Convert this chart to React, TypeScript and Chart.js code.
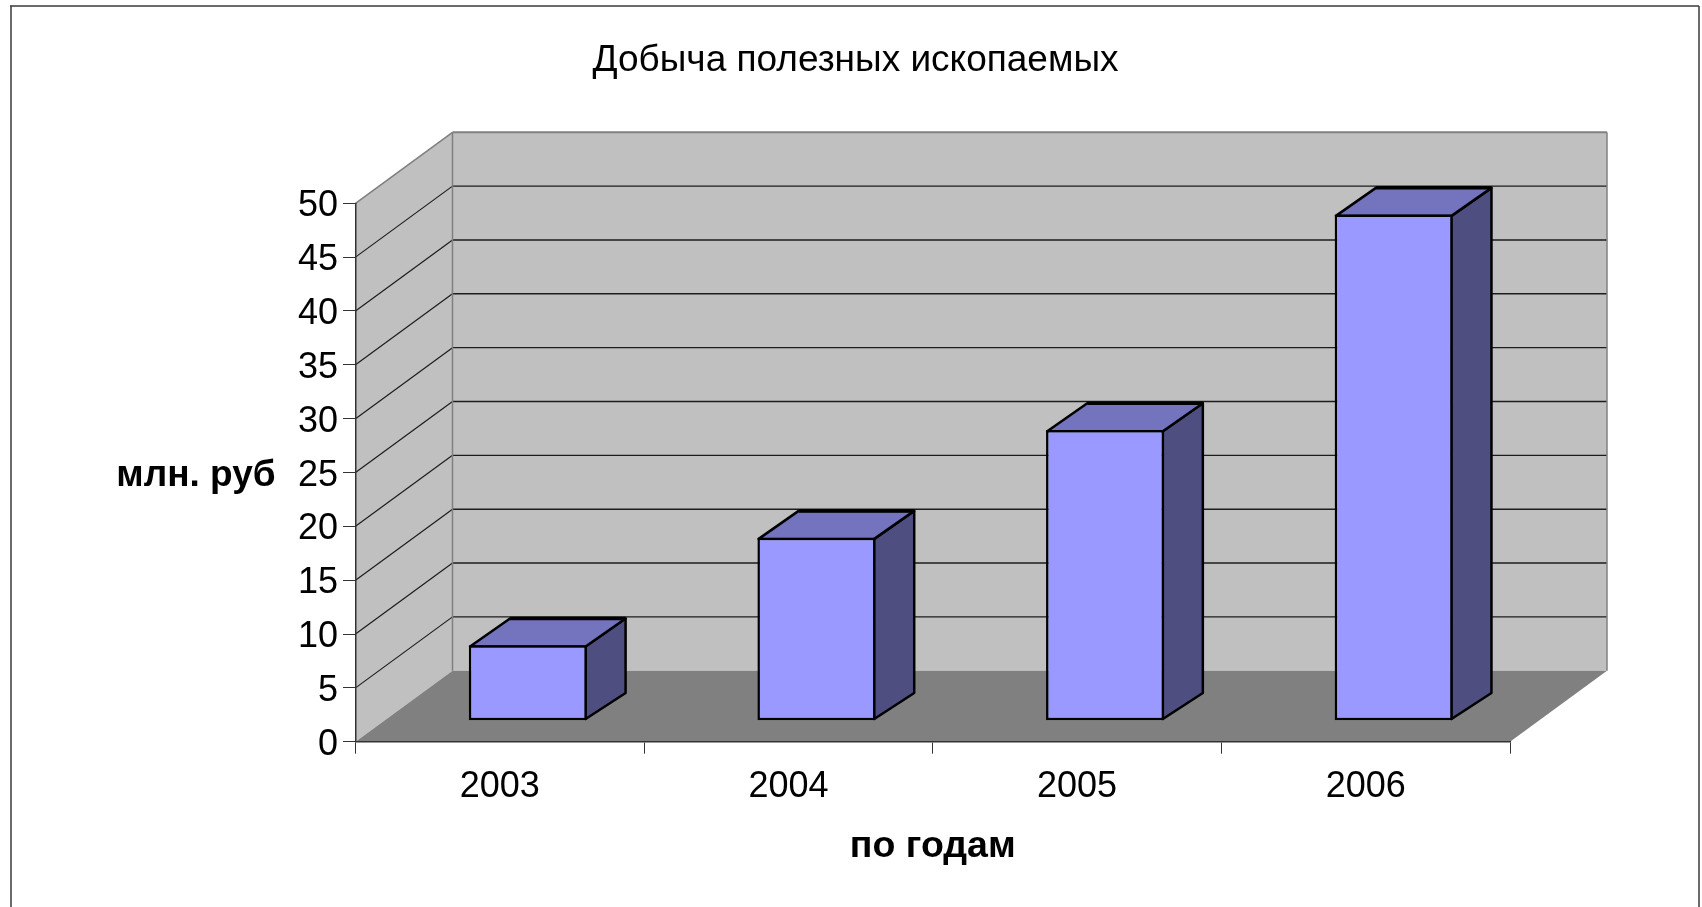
import React, { useEffect, useRef } from "react";
import { Chart, registerables } from "chart.js";

Chart.register(...registerables);

const titleText = "Добыча полезных ископаемых";
const xTitle = "по годам";
const yTitle = "млн. руб";
const categories = ["2003", "2004", "2005", "2006"];
const miningValues = [7, 17, 27, 47];
const axisMin = 0;
const axisMax = 50;
const axisStep = 5;

const FONT = '"Liberation Sans", Arial, sans-serif';
const DEPTH = { x: 97, y: -71 };
const BAR_DEPTH = { x: 40, top: -28, bottom: -26 };
const BAR_SHIFT = { x: 28, y: -21 };
const BAR_LINE = 2.5;
const COLORS = {
  wall: "#C0C0C0",
  floor: "#808080",
  edge: "#808080",
  grid: "#1c1c1c",
  front: "#9999FF",
  top: "#7474BE",
  side: "#4E4E80",
  frame: "#3a3a3a",
};

function poly(ctx: CanvasRenderingContext2D, pts: number[][], fill?: string, stroke?: string, lw = 1) {
  ctx.beginPath();
  pts.forEach((p, i) => (i ? ctx.lineTo(p[0], p[1]) : ctx.moveTo(p[0], p[1])));
  ctx.closePath();
  if (fill) {
    ctx.fillStyle = fill;
    ctx.fill();
  }
  if (stroke) {
    ctx.strokeStyle = stroke;
    ctx.lineWidth = lw;
    ctx.lineJoin = "round";
    ctx.stroke();
  }
}

function line(ctx: CanvasRenderingContext2D, a: number[], b: number[], color: string, lw: number) {
  ctx.beginPath();
  ctx.moveTo(a[0], a[1]);
  ctx.lineTo(b[0], b[1]);
  ctx.strokeStyle = color;
  ctx.lineWidth = lw;
  ctx.stroke();
}

const room3d = {
  id: "room3d",
  afterLayout(chart: any) {
    // the title is centred on the whole figure, not on the plot
    chart.titleBlock.left = 9;
    chart.titleBlock.right = 1702;
  },
  beforeDraw(chart: any) {
    const { ctx, width, height, scales } = chart;
    const x0 = scales.x.left;
    const x1 = scales.x.right;
    const yb = scales.y.getPixelForValue(axisMin);
    const yt = scales.y.getPixelForValue(axisMax);
    const d = DEPTH;
    ctx.save();
    ctx.fillStyle = "#ffffff";
    ctx.fillRect(0, 0, width, height);
    line(ctx, [11, 6], [11, height], COLORS.frame, 1.5);
    line(ctx, [10, 6], [1699, 6], COLORS.frame, 1.5);
    line(ctx, [1699, 6], [1699, height], COLORS.frame, 1.5);

    poly(ctx, [[x0 + d.x, yt + d.y], [x1 + d.x, yt + d.y], [x1 + d.x, yb + d.y], [x0 + d.x, yb + d.y]], COLORS.wall);
    poly(ctx, [[x0, yt], [x0 + d.x, yt + d.y], [x0 + d.x, yb + d.y], [x0, yb]], COLORS.wall);
    poly(ctx, [[x0, yb], [x0 + d.x, yb + d.y], [x1 + d.x, yb + d.y], [x1, yb]], COLORS.floor);

    for (let v = axisMin + axisStep; v < axisMax; v += axisStep) {
      const y = scales.y.getPixelForValue(v);
      line(ctx, [x0, y], [x0 + d.x, y + d.y], COLORS.grid, 1.2);
      line(ctx, [x0 + d.x, y + d.y], [x1 + d.x, y + d.y], COLORS.grid, 1.4);
    }
    line(ctx, [x0, yt], [x0 + d.x, yt + d.y], COLORS.edge, 1.6);
    line(ctx, [x0 + d.x, yt + d.y], [x1 + d.x, yt + d.y], COLORS.edge, 2);
    line(ctx, [x1 + d.x, yt + d.y], [x1 + d.x, yb + d.y], COLORS.edge, 1.5);
    line(ctx, [x0 + d.x, yt + d.y], [x0 + d.x, yb + d.y], COLORS.edge, 1.5);

    ctx.fillStyle = "#000";
    ctx.font = `bold 37px ${FONT}`;
    ctx.textAlign = "center";
    ctx.textBaseline = "alphabetic";
    ctx.fillText(yTitle, 196, 486);

    // value labels, sitting a little lower on their ticks than the built-in ones
    ctx.font = `36px ${FONT}`;
    ctx.textAlign = "right";
    scales.y.ticks.forEach((t: any) => {
      ctx.fillText(String(t.value), 338, scales.y.getPixelForValue(t.value) + 13);
    });
    ctx.restore();
  },
  beforeDatasetDraw(chart: any, args: any) {
    const { ctx } = chart;
    const meta = chart.getDatasetMeta(args.index);
    const inset = BAR_LINE / 2;
    ctx.save();
    meta.data.forEach((bar: any) => {
      const l = bar.x - bar.width / 2 + BAR_SHIFT.x + inset;
      const r = bar.x + bar.width / 2 + BAR_SHIFT.x - inset;
      const t = bar.y + BAR_SHIFT.y + inset;
      const b = bar.base + BAR_SHIFT.y - inset;
      const dx = BAR_DEPTH.x;
      poly(ctx, [[r, t], [r + dx, t + BAR_DEPTH.top], [r + dx, b + BAR_DEPTH.bottom], [r, b]], COLORS.side, "#000", BAR_LINE);
      poly(ctx, [[l, t], [l + dx, t + BAR_DEPTH.top], [r + dx, t + BAR_DEPTH.top], [r, t]], COLORS.top, "#000", BAR_LINE);
      line(ctx, [l + dx, t + BAR_DEPTH.top], [r + dx, t + BAR_DEPTH.top], "#000", 3.5);
    });
    ctx.restore();
    ctx.save();
    ctx.translate(BAR_SHIFT.x, BAR_SHIFT.y);
  },
  afterDatasetDraw(chart: any) {
    chart.ctx.restore();
  },
};

export default function App() {
  const ref = useRef<HTMLCanvasElement | null>(null);
  useEffect(() => {
    const chart = new Chart(ref.current as HTMLCanvasElement, {
      type: "bar",
      data: {
        labels: categories,
        datasets: [
          {
            label: "млн. руб",
            data: miningValues,
            backgroundColor: COLORS.front,
            borderColor: "#000000",
            borderWidth: BAR_LINE,
            borderSkipped: false,
            barPercentage: 0.409,
            categoryPercentage: 1,
          },
        ],
      },
      options: {
        responsive: false,
        animation: false,
        devicePixelRatio: 1,
        layout: { padding: { left: 9.2, right: 192, top: 0, bottom: 0 } },
        plugins: {
          legend: { display: false },
          tooltip: { enabled: false },
          title: {
            display: true,
            text: titleText,
            color: "#000",
            font: { family: FONT, size: 37, weight: "normal", lineHeight: 1.2 },
            padding: { top: 38.3, bottom: 120.6 },
          },
        },
        scales: {
          x: {
            afterFit: (s: any) => {
              s.height = 165.3;
            },
            grid: { drawOnChartArea: false, drawTicks: true, tickLength: 12, color: "#333", offset: true },
            border: { color: "#333", width: 1.5 },
            ticks: { color: "#000", font: { family: FONT, size: 36 }, padding: 12, maxRotation: 0, autoSkip: false },
            title: {
              display: true,
              text: xTitle,
              color: "#000",
              font: { family: FONT, size: 37.5, weight: "bold" },
              padding: { top: 0, bottom: 38 },
            },
          },
          y: {
            min: axisMin,
            max: axisMax,
            afterFit: (s: any) => {
              s.width = 346.3;
            },
            grid: { drawOnChartArea: false, drawTicks: true, tickLength: 12.5, color: "#333" },
            border: { color: "#333", width: 1.5 },
            ticks: { stepSize: axisStep, display: false },
          },
        },
      },
      plugins: [room3d],
    } as any);
    return () => chart.destroy();
  }, []);
  return (
    <div style={{ position: "fixed", left: 0, top: 0, width: 1702, height: 907, background: "#fff" }}>
      <canvas ref={ref} width={1702} height={907} style={{ display: "block" }} />
    </div>
  );
}
